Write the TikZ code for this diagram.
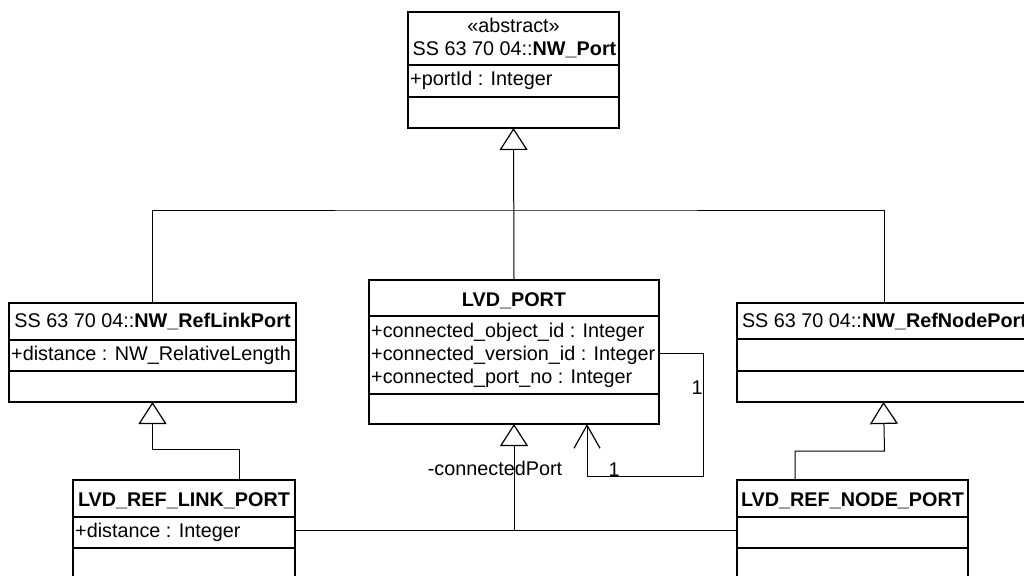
\documentclass[tikz,border=0pt]{standalone}
\usepackage{fontspec}
\setmainfont{Liberation Sans}
\usetikzlibrary{arrows.meta}
\newcommand\umlfont{\fontsize{19.8}{23}\selectfont}
\begin{document}
\begin{tikzpicture}[x=1pt,y=-1pt,
  umlbox/.style={draw, line width=1.2pt, anchor=north west, inner sep=0pt, outer sep=0pt},
  sep/.style={line width=1.2pt},
  txt/.style={anchor=base west, inner sep=0pt, font=\umlfont},
  ctxt/.style={anchor=base, inner sep=0pt, font=\umlfont},
  conn/.style={line width=1pt},
  gen/.style={conn, -{Triangle[open, length=22pt, width=28pt, line width=1.2pt]}},
  nav/.style={conn, -{Straight Barb[length=23pt, width=26pt, line width=1.2pt]}}
]
\useasboundingbox (0,0) rectangle (1024,575);
\clip (0,0) rectangle (1024,575);
\fill[white] (0,0) rectangle (1024,575);

% NW_Port
\node[umlbox, minimum width=211pt, minimum height=116pt] (nwport) at (408,12) {};
\draw[sep] (408,65) -- (619,65);
\draw[sep] (408,97) -- (619,97);
\node[ctxt] (nwst) at (513.5,33) {«abstract»};
\node[ctxt] (nwt) at (514.5,56) {SS 63 70 04::\textbf{NW\_Port}};
\node[txt] (nwa) at (410,86) {+portId : Integer};

% NW_RefLinkPort
\node[umlbox, minimum width=287pt, minimum height=99pt] (reflink) at (9,303) {};
\draw[sep] (9,340) -- (296,340);
\draw[sep] (9,371) -- (296,371);
\node[ctxt] (rlt) at (152.5,327) {SS 63 70 04::\textbf{NW\_RefLinkPort}};
\node[txt] (rla) at (11,360) {+distance : NW\_RelativeLength};

% LVD_PORT
\node[umlbox, minimum width=290pt, minimum height=144pt] (lvdport) at (369,280) {};
\draw[sep] (369,316) -- (659,316);
\draw[sep] (369,394) -- (659,394);
\node[ctxt] (lpt) at (514,306) {\textbf{LVD\_PORT}};
\node[txt] (lpa1) at (371,337) {+connected\_object\_id : Integer};
\node[txt] (lpa2) at (371,360) {+connected\_version\_id : Integer};
\node[txt] (lpa3) at (371,383) {+connected\_port\_no : Integer};

% NW_RefNodePort
\node[umlbox, minimum width=295pt, minimum height=99pt] (refnode) at (737,303) {};
\draw[sep] (737,339) -- (1032,339);
\draw[sep] (737,371) -- (1032,371);
\node[ctxt] (rnt) at (884.5,327) {SS 63 70 04::\textbf{NW\_RefNodePort}};

% LVD_REF_LINK_PORT
\node[umlbox, minimum width=222pt, minimum height=110pt] (rlp) at (73,480) {};
\draw[sep] (73,517) -- (295,517);
\draw[sep] (73,548) -- (295,548);
\node[ctxt] (rlpt) at (184,506) {\textbf{LVD\_REF\_LINK\_PORT}};
\node[txt] (rlpa) at (75,537) {+distance : Integer};

% LVD_REF_NODE_PORT
\node[umlbox, minimum width=231pt, minimum height=110pt] (rnp) at (737,480) {};
\draw[sep] (737,517) -- (968,517);
\draw[sep] (737,548) -- (968,548);
\node[ctxt] (rnpt) at (852.5,506) {\textbf{LVD\_REF\_NODE\_PORT}};

% generalizations to NW_Port
\coordinate (j1) at (514,210);
\draw[gen] (lvdport.north) -- (nwport.south);
\draw[conn] (reflink.north) |- (j1) -| ([xshift=-0.5pt]refnode.north);

% generalizations to NW_RefLinkPort / NW_RefNodePort
\draw[gen] ([xshift=166pt]rlp.north west) |- ([yshift=-47pt]reflink.south) -- (reflink.south);
\draw[gen] ([xshift=58pt]rnp.north west) |- ([yshift=-49pt]refnode.south) -- ([xshift=-1pt]refnode.south);

% generalization to LVD_PORT
\coordinate (j2) at (514,530);
\draw[conn] ([yshift=-50pt]rlp.north east) -- ([yshift=-50pt]rnp.north west);
\draw[gen] (j2) -- (lvdport.south);

% self association
\coordinate (s1) at (703,353);
\coordinate (s2) at (703,476);
\coordinate (s3) at (587,476);
\draw[nav] (lvdport.east |- s1) -- (s1) -- (s2) -- (s3) -- ([xshift=73pt]lvdport.south);
\node[ctxt] (m1) at (697,394) {1};
\node[ctxt] (m2) at (614,476) {1};
\node[ctxt] (role) at (495,475) {-connectedPort};
\end{tikzpicture}
\end{document}
